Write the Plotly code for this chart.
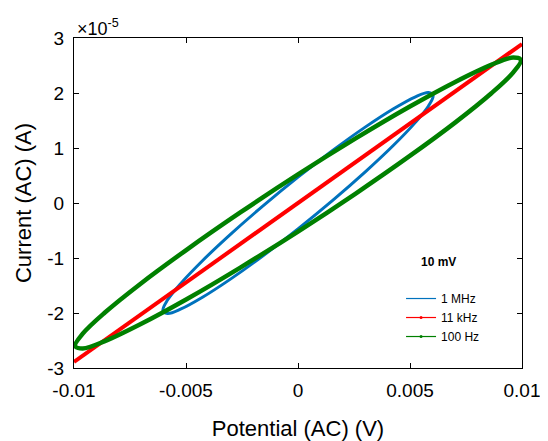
import plotly.graph_objects as go

# Lissajous data: potential (V) vs current (units of 1e-5 A)
mhz_v = [0.0, -0.001561, -0.003015, -0.004264, -0.005222, -0.005825, -0.00603,
         -0.005825, -0.005222, -0.004264, -0.003015, -0.001561, 0.0,
         0.001561, 0.003015, 0.004264, 0.005222, 0.005825, 0.00603,
         0.005825, 0.005222, 0.004264, 0.003015, 0.001561, 0.0]
mhz_i = [0.470, -0.052, -0.570, -1.049, -1.457, -1.765, -1.954,
         -2.009, -1.927, -1.714, -1.384, -0.960, -0.470,
         0.052, 0.570, 1.049, 1.457, 1.765, 1.954,
         2.009, 1.927, 1.714, 1.384, 0.960, 0.470]

khz_v = [-0.0100, 0.0100]
khz_i = [-2.89, 2.89]

hz_v = [0.0, -0.002575, -0.004975, -0.00704, -0.00862, -0.00961, -0.00995,
        -0.00961, -0.00862, -0.00704, -0.004975, -0.002575, 0.0,
        0.002575, 0.004975, 0.00704, 0.00862, 0.00961, 0.00995,
        0.00961, 0.00862, 0.00704, 0.004975, 0.002575, 0.0]
hz_i = [0.519, -0.172, -0.851, -1.471, -1.991, -2.376, -2.599,
        -2.645, -2.511, -2.205, -1.749, -1.174, -0.519,
        0.172, 0.851, 1.471, 1.991, 2.376, 2.599,
        2.645, 2.511, 2.205, 1.749, 1.174, 0.519]

series_names = ["1 MHz", "11 kHz", "100 Hz"]
series_colors = ["#0072BD", "#FF0000", "#008000"]

x_ticks = [-0.01, -0.005, 0, 0.005, 0.01]
x_ticktext = ["-0.01", "-0.005", "0", "0.005", "0.01"]
y_ticks = [-3, -2, -1, 0, 1, 2, 3]
y_ticktext = ["-3", "-2", "-1", "0", "1", "2", "3"]

FONT = "Liberation Sans, Arial, Helvetica, sans-serif"

fig = go.Figure()
fig.add_trace(go.Scatter(x=mhz_v, y=mhz_i, mode="lines", showlegend=False,
                         line=dict(color=series_colors[0], width=3, shape="spline")))
fig.add_trace(go.Scatter(x=khz_v, y=khz_i, mode="lines", showlegend=False,
                         line=dict(color=series_colors[1], width=4)))
fig.add_trace(go.Scatter(x=hz_v, y=hz_i, mode="lines", showlegend=False,
                         line=dict(color=series_colors[2], width=4.5, shape="spline")))

# legend entries (thin lines, small markers as in the reference legend)
for k, (nm, col) in enumerate(zip(series_names, series_colors)):
    fig.add_trace(go.Scatter(x=[None], y=[None], name=nm,
                             mode="lines" if k == 0 else "lines+markers",
                             line=dict(color=col, width=1.2),
                             marker=dict(size=3, color=col)))

axis_common = dict(showline=True, linecolor="black", linewidth=1, mirror="ticks",
                   ticks="inside", ticklen=5, tickcolor="black", showgrid=False,
                   zeroline=False, automargin=False, ticklabelstandoff=5,
                   tickfont=dict(family=FONT, size=19, color="black"))

fig.update_xaxes(range=[-0.01, 0.01], tickvals=x_ticks, ticktext=x_ticktext,
                 title=dict(text="Potential (AC) (V)", font=dict(family=FONT, size=22, color="black"),
                            standoff=23),
                 **axis_common)
fig.update_yaxes(range=[-3, 3], tickvals=y_ticks, ticktext=y_ticktext,
                 title=dict(text="Current (AC) (A)", font=dict(family=FONT, size=22, color="black"),
                            standoff=9),
                 **axis_common)

fig.add_annotation(x=0, y=1, xref="paper", yref="paper", xanchor="left", yanchor="bottom",
                   text="×10<sup>-5</sup>", showarrow=False, xshift=1, yshift=-3,
                   font=dict(family=FONT, size=18, color="black"))
fig.add_annotation(x=0.00625, y=-1.07, xref="x", yref="y", xanchor="center", yanchor="middle",
                   text="<b>10 mV</b>", showarrow=False,
                   font=dict(family=FONT, size=12, color="black"))

# the page body adds an 8 px margin, so the figure is 8 px smaller and offsets shifted
fig.update_layout(
    width=540, height=433,
    margin=dict(l=66, r=26, t=30, b=73),
    plot_bgcolor="white", paper_bgcolor="white",
    font=dict(family=FONT, color="black"),
    legend=dict(x=0.73, y=0.2545, xanchor="left", yanchor="top",
                bgcolor="rgba(0,0,0,0)", font=dict(family=FONT, size=12, color="black"),
                itemwidth=30, tracegroupgap=0),
)

fig.write_html("out.html")
